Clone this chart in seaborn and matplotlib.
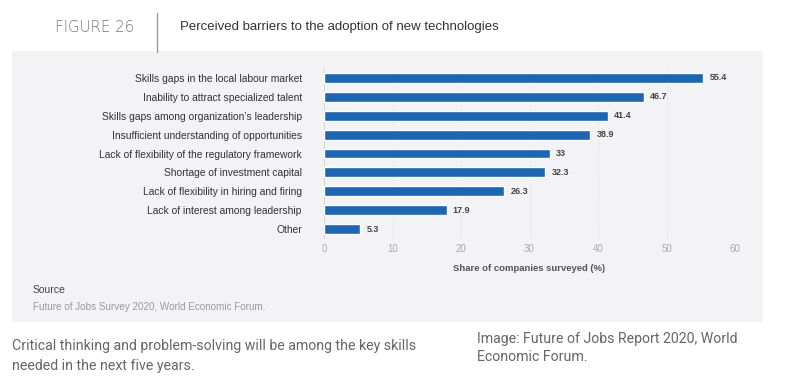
import matplotlib
matplotlib.use("Agg")
import matplotlib.pyplot as plt
import seaborn as sns
import pandas as pd
from matplotlib.patches import Rectangle
from matplotlib.lines import Line2D

categories = [
    "Skills gaps in the local labour market",
    "Inability to attract specialized talent",
    "Skills gaps among organization\u2019s leadership",
    "Insufficient understanding of opportunities",
    "Lack of flexibility of the regulatory framework",
    "Shortage of investment capital",
    "Lack of flexibility in hiring and firing",
    "Lack of interest among leadership",
    "Other",
]
values = [55.4, 46.7, 41.4, 38.9, 33, 32.3, 26.3, 17.9, 5.3]
value_labels = ["55.4", "46.7", "41.4", "38.9", "33", "32.3", "26.3", "17.9", "5.3"]
xticks = [0, 10, 20, 30, 40, 50, 60]

sns.set_theme(style="white")
plt.rcParams["font.family"] = ["Liberation Sans", "DejaVu Sans"]

W, H = 786, 386
fig = plt.figure(figsize=(W / 100, H / 100), dpi=100)
fig.patch.set_facecolor("white")

panel_color = "#f3f3f5"
panel = Rectangle((12 / W, 1 - 322 / H), (763 - 12) / W, (322 - 51) / H,
                  transform=fig.transFigure, facecolor=panel_color,
                  edgecolor="none", zorder=-10)
fig.patches.append(panel)
fig.lines.append(Line2D([157 / W, 157 / W], [1 - 13 / H, 1 - 52 / H],
                        transform=fig.transFigure, color="#9a9a9a", lw=1.0))

fig.text(55 / W, 1 - 27 / H, "FIGURE 26", fontsize=10.8, color="#777777",
         va="center", ha="left", fontfamily=["DejaVu Sans"], fontweight="light")
fig.text(180 / W, 1 - 27 / H, "Perceived barriers to the adoption of new technologies",
         fontsize=9.5, color="#333333", va="center", ha="left")

ax = fig.add_axes([324 / W, 1 - 238.5 / H, (735 - 324) / W, (238.5 - 68.5) / H])
ax.set_facecolor(panel_color)
ax.set_zorder(1)

df = pd.DataFrame({"category": categories, "value": values})
sns.barplot(data=df, x="value", y="category", color="#1b67b5", width=0.52,
            saturation=1, ax=ax, zorder=3)

ax.set_xlim(0, 60)
ax.set_xticks(xticks)
ax.set_xticklabels([str(t) for t in xticks], fontsize=7, color="#aaaaaa")
ax.tick_params(axis="x", length=0, pad=4)
ax.tick_params(axis="y", length=0, pad=16, labelsize=7.4, labelcolor="#333333")
ax.set_ylabel("")
ax.set_xlabel("Share of companies surveyed (%)", fontsize=6.8, color="#555555",
              fontweight="bold", labelpad=7)
for s in ax.spines.values():
    s.set_visible(False)
ax.grid(axis="x", color="#dcdcdc", lw=0.6, ls=(0, (1, 1.5)), zorder=0)
ax.axvline(0, color="#d0d0d0", lw=0.6, zorder=1)

for i, (v, lab) in enumerate(zip(values, value_labels)):
    ax.text(v + 0.9, i, lab, va="center", ha="left", fontsize=6.5,
            color="#444444", fontweight="bold")

fig.text(33 / W, 1 - 290 / H, "Source", fontsize=7.5, color="#444444", va="center")
fig.text(33 / W, 1 - 307 / H, "Future of Jobs Survey 2020, World Economic Forum.",
         fontsize=7.1, color="#999999", va="center")

cap_font = ["Roboto", "DejaVu Sans"]
fig.text(12 / W, 1 - 346 / H, "Critical thinking and problem-solving will be among the key skills",
         fontsize=10.2, color="#666666", va="center", fontfamily=cap_font)
fig.text(12 / W, 1 - 366 / H, "needed in the next five years.",
         fontsize=10.2, color="#666666", va="center", fontfamily=cap_font)
fig.text(477 / W, 1 - 339 / H, "Image: Future of Jobs Report 2020, World",
         fontsize=10.2, color="#666666", va="center", fontfamily=cap_font)
fig.text(477 / W, 1 - 357 / H, "Economic Forum.",
         fontsize=10.2, color="#666666", va="center", fontfamily=cap_font)

fig.savefig("out.png", dpi=100, facecolor="white")
